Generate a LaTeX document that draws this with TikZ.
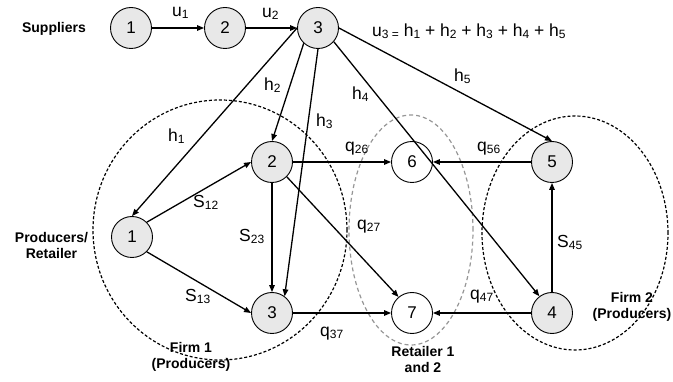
\documentclass[tikz,border=0pt]{standalone}
\usepackage{fontspec}
\setmainfont{Liberation Sans}
\usetikzlibrary{arrows.meta}
\definecolor{nodegray}{RGB}{232,232,232}
\definecolor{ringgray}{RGB}{150,150,150}
% small lowered index used in the flow labels
\newcommand\lowsub[1]{\raisebox{-2pt}{\fontsize{12}{12}\selectfont #1}}
\begin{document}
\begin{tikzpicture}[x=1pt,y=-1pt,
  stage/.style={circle,draw,line width=0.9pt,minimum size=41pt,inner sep=0pt,
    font=\fontsize{17}{17}\selectfont},
  graynode/.style={stage,fill=nodegray},
  whitenode/.style={stage,fill=white},
  flow/.style={line width=1.3pt,-{Triangle[length=7pt,width=5.5pt]}},
  lbl/.style={anchor=base west,inner sep=0pt,font=\fontsize{17.5}{17.5}\selectfont},
  group/.style={anchor=base,align=center,inner sep=0pt,
    font=\bfseries\fontsize{14}{16}\selectfont},
  firmring/.style={draw,dash pattern=on 3pt off 2pt,line width=1.2pt},
  shopring/.style={draw=ringgray,dash pattern=on 4pt off 3pt,line width=1.2pt}
]
\useasboundingbox (0,0) rectangle (673,382);

% groupings
\draw[firmring] (220,230) ellipse [x radius=127pt, y radius=130pt];
\draw[shopring] (411,230) ellipse [x radius=62pt, y radius=115pt];
\draw[firmring] (575,233) ellipse [x radius=93pt, y radius=117pt];

% suppliers
\node[graynode] (sup1) at (131,28) {1};
\node[graynode] (sup2) at (225,28) {2};
\node[graynode] (sup3) at (318,28) {3};

% firm 1
\node[graynode] (p1) at (132,237) {1};
\node[graynode] (p2) at (272,162) {2};
\node[graynode] (p3) at (272,313) {3};

% retailers
\node[whitenode] (r6) at (412,162) {6};
\node[whitenode] (r7) at (412,313) {7};

% firm 2
\node[graynode] (p5) at (552,162) {5};
\node[graynode] (p4) at (552,313) {4};

% group captions (anchored on the baseline of the last line)
\node[group] (capsup) at (54,33) {Suppliers};
\node[group] (capret) at (51.5,259) {Producers/\\Retailer};
\node[group] (capf1) at (191,369) {Firm 1\\(Producers)};
\node[group] (capshop) at (423,373) {Retailer 1\\and 2};
\node[group] (capf2) at (632,319) {Firm 2\\(Producers)};

% supply chain
\draw[flow] (sup1) -- (sup2);
\draw[flow] (sup2) -- (sup3);
\draw[flow] (sup3.west) -- (p1.north);
\draw[flow] (sup3.227) -- (p2.north);
\draw[flow] (sup3.south) -- (p3.53);
\draw[flow] (sup3.-41) -- (p4.127);
\draw[flow] (sup3.east) -- (p5.north);

% shipments inside the firms
\draw[flow] (p1.45) -- (p2.west);
\draw[flow] (p1.-45) -- (p3.west);
\draw[flow] (p2.south) -- (p3.north);
\draw[flow] (p4.north) -- (p5.south);

% deliveries to the retailers
\draw[flow] (p2.east) -- (r6.west);
\draw[flow] (p2.-45) -- (r7.130);
\draw[flow] (p3.east) -- (r7.west);
\draw[flow] (p5.west) -- (r6.east);
\draw[flow] (p4.west) -- (r7.east);

% flow labels
\node[lbl] (lu1) at (172,17) {u\lowsub{1}};
\node[lbl] (lu2) at (262,18) {u\lowsub{2}};
\node[lbl] (lu3) at (372,37) {u\lowsub{3 =} h\lowsub{1} + h\lowsub{2} + h\lowsub{3} + h\lowsub{4} + h\lowsub{5}};
\node[lbl] (lh1) at (168,142) {h\lowsub{1}};
\node[lbl] (lh2) at (264,91) {h\lowsub{2}};
\node[lbl] (lh3) at (316,127) {h\lowsub{3}};
\node[lbl] (lh4) at (352,100) {h\lowsub{4}};
\node[lbl] (lh5) at (454,82) {h\lowsub{5}};
\node[lbl] (ls12) at (193,208) {S\lowsub{12}};
\node[lbl] (ls23) at (239,242) {S\lowsub{23}};
\node[lbl] (ls13) at (185,302) {S\lowsub{13}};
\node[lbl] (ls45) at (557,248) {S\lowsub{45}};
\node[lbl] (lq26) at (345,152) {q\lowsub{26}};
\node[lbl] (lq27) at (357,230) {q\lowsub{27}};
\node[lbl] (lq37) at (320,337) {q\lowsub{37}};
\node[lbl] (lq56) at (477,152) {q\lowsub{56}};
\node[lbl] (lq47) at (470,300) {q\lowsub{47}};
\end{tikzpicture}
\end{document}
